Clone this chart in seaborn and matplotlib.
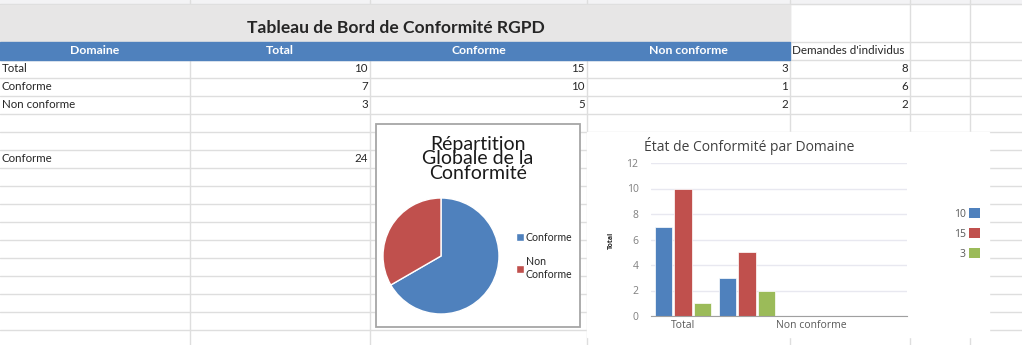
import matplotlib
matplotlib.use("Agg")
import matplotlib.pyplot as plt
from matplotlib.patches import Rectangle, Patch
import seaborn as sns
import pandas as pd

# spreadsheet data
header = ["Domaine", "Total", "Conforme", "Non conforme"]
extra_header = "Demandes d'individus"
domaines = ["Total", "Conforme", "Non conforme"]
col_total = [10, 7, 3]
col_conforme = [15, 10, 5]
col_non_conforme = [3, 1, 2]
col_demandes = [8, 6, 2]
summary_label = "Conforme"
summary_value = 24

# pie chart
pie_labels = ["Conforme", "Non\nConforme"]
pie_values = [24, 12]

# bar chart (series named after the "Total" row)
bar_series = ["10", "15", "3"]
bar_categories = ["Conforme", "Non conforme"]
bar_values = {"10": [7, 3], "15": [10, 5], "3": [1, 2]}
bar_slots = ["Conforme", "Non conforme", "_3", "_4"]
bar_tick_labels = ["Total", "Non conforme"]

BLUE, RED, GREEN = "#4f81bd", "#c0504d", "#9bbb59"
GRID = "#dedede"
W, H = 1022, 345

sns.set_style("white")
plt.rcParams["font.family"] = ["Lato", "DejaVu Sans"]

fig = plt.figure(figsize=(W / 100, H / 100), dpi=100)
sheet = fig.add_axes([0, 0, 1, 1])
sheet.set_xlim(0, W)
sheet.set_ylim(H, 0)
sheet.axis("off")

cols = [0, 190, 370, 587, 790, 910, 970, W]
rows = [4, 42, 60] + [60 + 18 * i for i in range(1, 16)]

# sheet grid
for x in cols[1:-1]:
    sheet.plot([x, x], [0, H], color=GRID, lw=1, zorder=1)
for y in rows:
    sheet.plot([0, W], [y, y], color=GRID, lw=1, zorder=1)
sheet.add_patch(Rectangle((0, 0), W, 4, color="#f3f3f5", zorder=0))

# title block and header band
sheet.add_patch(Rectangle((0, 4.5), 790, 37.5, color="#e7e6e6", zorder=2))
sheet.text(396, 28, "Tableau de Bord de Conformité RGPD", ha="center", va="center",
           fontsize=12.6, fontweight="bold", zorder=3)
sheet.add_patch(Rectangle((0, 42), 790, 18, color=BLUE, zorder=2))
for i, name in enumerate(header):
    sheet.text((cols[i] + cols[i + 1]) / 2, 51, name, ha="center", va="center",
               color="white", fontsize=8.8, fontweight="bold", zorder=3)
sheet.text(792, 51, extra_header, ha="left", va="center", fontsize=8.4, zorder=3)

# table rows
fs = 8.3
for r, name in enumerate(domaines):
    y = 69 + 18 * r
    sheet.text(2, y, name, ha="left", va="center", fontsize=fs, zorder=3)
    for c, v in zip([2, 3, 4, 5], [col_total[r], col_conforme[r], col_non_conforme[r], col_demandes[r]]):
        sheet.text(cols[c] - 2, y, str(v), ha="right", va="center", fontsize=fs, zorder=3)
sheet.text(2, 158, summary_label, ha="left", va="center", fontsize=fs, zorder=3)
sheet.text(368, 158, str(summary_value), ha="right", va="center", fontsize=fs, zorder=3)

# chart backgrounds
sheet.add_patch(Rectangle((587, 132), 402, 205, color="white", zorder=4))
sheet.add_patch(Rectangle((375.5, 123.5), 204, 203.5, facecolor="white",
                          edgecolor="#a6a6a6", lw=1.3, zorder=5))

# pie title, clipped like in the sheet
clip = Rectangle((376, 124), 157, 70, transform=sheet.transData)
t = sheet.text(478, 159, "Répartition\nGlobale de la\nConformité", ha="center", va="center",
               fontsize=14, linespacing=0.85, color="#1a1a1a", zorder=6)
t.set_clip_path(clip)


def px_axes(x0, y0, x1, y1):
    return fig.add_axes([x0 / W, 1 - y1 / H, (x1 - x0) / W, (y1 - y0) / H])


# pie chart
ax_pie = px_axes(383, 198, 499, 314)
wedges, _ = ax_pie.pie(pie_values, colors=[BLUE, RED], startangle=90, counterclock=False,
                       radius=1)
ax_pie.set_xlim(-1, 1)
ax_pie.set_ylim(-1, 1)
ax_pie.legend(wedges, pie_labels, loc="center left", bbox_to_anchor=(506 / W, 1 - 256 / H),
              bbox_transform=fig.transFigure, frameon=False, fontsize=7.6,
              handlelength=0.8, handleheight=0.8, handletextpad=0.15, labelspacing=1.3)

# bar chart
df = pd.DataFrame([
    {"Domaine": cat, "Série": s, "Valeur": bar_values[s][i]}
    for s in bar_series for i, cat in enumerate(bar_categories)
])
ax = px_axes(651, 163, 907, 316)
sns.barplot(data=df, x="Domaine", y="Valeur", hue="Série", order=bar_slots,
            hue_order=bar_series, palette=[BLUE, RED, GREEN], saturation=1,
            width=0.92, gap=0.12, edgecolor="white", linewidth=0.5, ax=ax, legend=False)
ax.set_xlim(-0.5, 3.5)
ax.set_ylim(0, 12)
ax.set_yticks(range(0, 13, 2))
ax.yaxis.grid(True, color="#e8e8f0", lw=1)
ax.set_axisbelow(True)
for side in ["left", "right", "top"]:
    ax.spines[side].set_visible(False)
ax.spines["bottom"].set_color("#a0a0a0")
ax.set_xticks([0, 2])
ax.set_xticklabels(bar_tick_labels)
ax.set_xticks([-0.5, 1.5, 3.5], minor=True)
ax.tick_params(axis="x", which="major", length=0, pad=3, labelsize=7.5, labelcolor="#595959")
ax.tick_params(axis="x", which="minor", length=4, color="#a0a0a0", direction="out")
ax.tick_params(axis="y", length=0, pad=9, labelsize=7.5, labelcolor="#7f7f7f")
for lbl in ax.get_xticklabels() + ax.get_yticklabels():
    lbl.set_fontfamily(["Open Sans", "DejaVu Sans"])
ax.set_xlabel("")
ax.set_ylabel("")
fig.text(611 / W, 1 - 240 / H, "Total", rotation=90, ha="center", va="center",
         fontsize=5, fontweight="bold", family=["Open Sans", "DejaVu Sans"])
fig.text(749 / W, 1 - 146 / H, "État de Conformité par Domaine", ha="center", va="center",
         fontsize=10, color="#404040", family=["Open Sans", "DejaVu Sans"])

handles = [Patch(facecolor=c, edgecolor="none") for c in [BLUE, RED, GREEN]]
fig.legend(handles, bar_series, loc="center right", bbox_to_anchor=(989 / W, 1 - 234 / H),
           frameon=False, markerfirst=False, labelcolor="#595959",
           handlelength=1.0, handleheight=1.0, handletextpad=0.35, labelspacing=0.85,
           prop={"family": ["Open Sans", "DejaVu Sans"], "size": 7.5})

fig.savefig("out.png", dpi=100)
